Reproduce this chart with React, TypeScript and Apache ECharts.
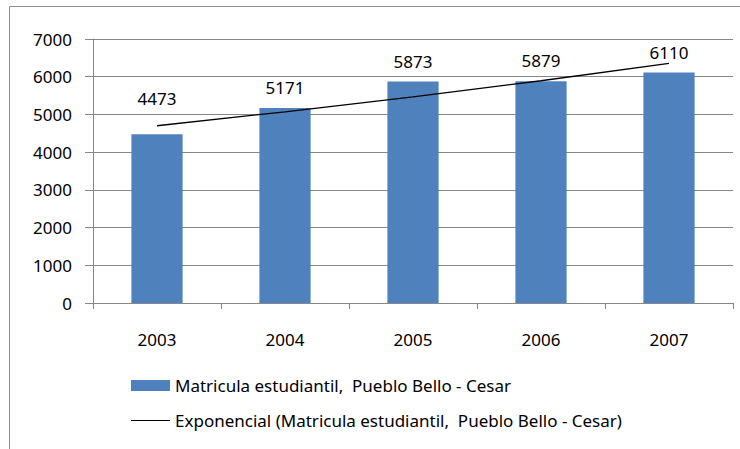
import React, { useEffect, useRef } from "react";
import * as echarts from "echarts";

const categories = ["2003", "2004", "2005", "2006", "2007"];
const enrollment = [4473, 5171, 5873, 5879, 6110];
const labelDistances = [27, 12, 12, 12, 12];
const trendValues = [4700, 5070, 5467, 5893, 6354];
const yTicks = [0, 1000, 2000, 3000, 4000, 5000, 6000, 7000];
const barName = "Matricula estudiantil,  Pueblo Bello - Cesar";
const trendName = "Exponencial (Matricula estudiantil,  Pueblo Bello - Cesar)";

const FONT = "'Noto Sans', sans-serif";
const FS = 17;
const GRAY = "#878787";

export default function App() {
  const ref = useRef<HTMLDivElement>(null);
  useEffect(() => {
    document.body.style.margin = "0";
    if (!ref.current) return;
    const chart = echarts.init(ref.current, null, { renderer: "svg" });
    chart.setOption({
      animation: false,
      backgroundColor: "#ffffff",
      textStyle: { fontFamily: FONT },
      graphic: [
        {
          type: "rect",
          shape: { x: 9.5, y: 6.5, width: 800, height: 500 },
          style: { fill: "none", stroke: "#8c8c8c", lineWidth: 1 },
          silent: true,
        },
      ],
      grid: { left: 93, top: 39, right: 7, bottom: 146 },
      legend: {
        orient: "vertical",
        left: 126,
        top: 372,
        itemWidth: 39,
        itemHeight: 11,
        itemGap: 18,
        symbolKeepAspect: true,
        textStyle: { fontFamily: FONT, fontSize: FS, color: "#000", lineHeight: 16 },
        data: [
          { name: barName, icon: "rect" },
          { name: trendName, icon: "path://M0,0L60,0L60,1.6L0,1.6Z", itemStyle: { color: "#000" } },
        ],
      },
      xAxis: {
        type: "category",
        data: categories,
        axisLine: { lineStyle: { color: GRAY, width: 1 } },
        axisTick: { show: true, length: 6, lineStyle: { color: GRAY } },
        axisLabel: { margin: 28, fontSize: FS, color: "#000", fontFamily: FONT, lineHeight: 16 },
      },
      yAxis: {
        type: "value",
        min: yTicks[0],
        max: yTicks[yTicks.length - 1],
        interval: 1000,
        axisLine: { show: true, lineStyle: { color: GRAY, width: 1 } },
        axisTick: { show: true, length: 8, lineStyle: { color: GRAY } },
        splitLine: { lineStyle: { color: GRAY, width: 1 } },
        axisLabel: {
          margin: 21,
          fontSize: FS,
          color: "#000",
          fontFamily: FONT,
          formatter: (v: number) => String(v),
        },
      },
      series: [
        {
          name: barName,
          type: "bar",
          barWidth: "40%",
          itemStyle: { color: "#4F81BD" },
          data: enrollment.map((v, i) => ({
            value: v,
            label: {
              show: true,
              position: "top",
              distance: labelDistances[i],
              fontSize: FS,
              color: "#000",
              fontFamily: FONT,
            },
          })),
        },
        {
          name: trendName,
          type: "line",
          data: trendValues,
          symbol: "none",
          itemStyle: { color: "#000" },
          lineStyle: { color: "#000", width: 1.3 },
          z: 5,
        },
      ],
    });
    return () => chart.dispose();
  }, []);
  return <div ref={ref} style={{ width: 740, height: 449 }} />;
}
